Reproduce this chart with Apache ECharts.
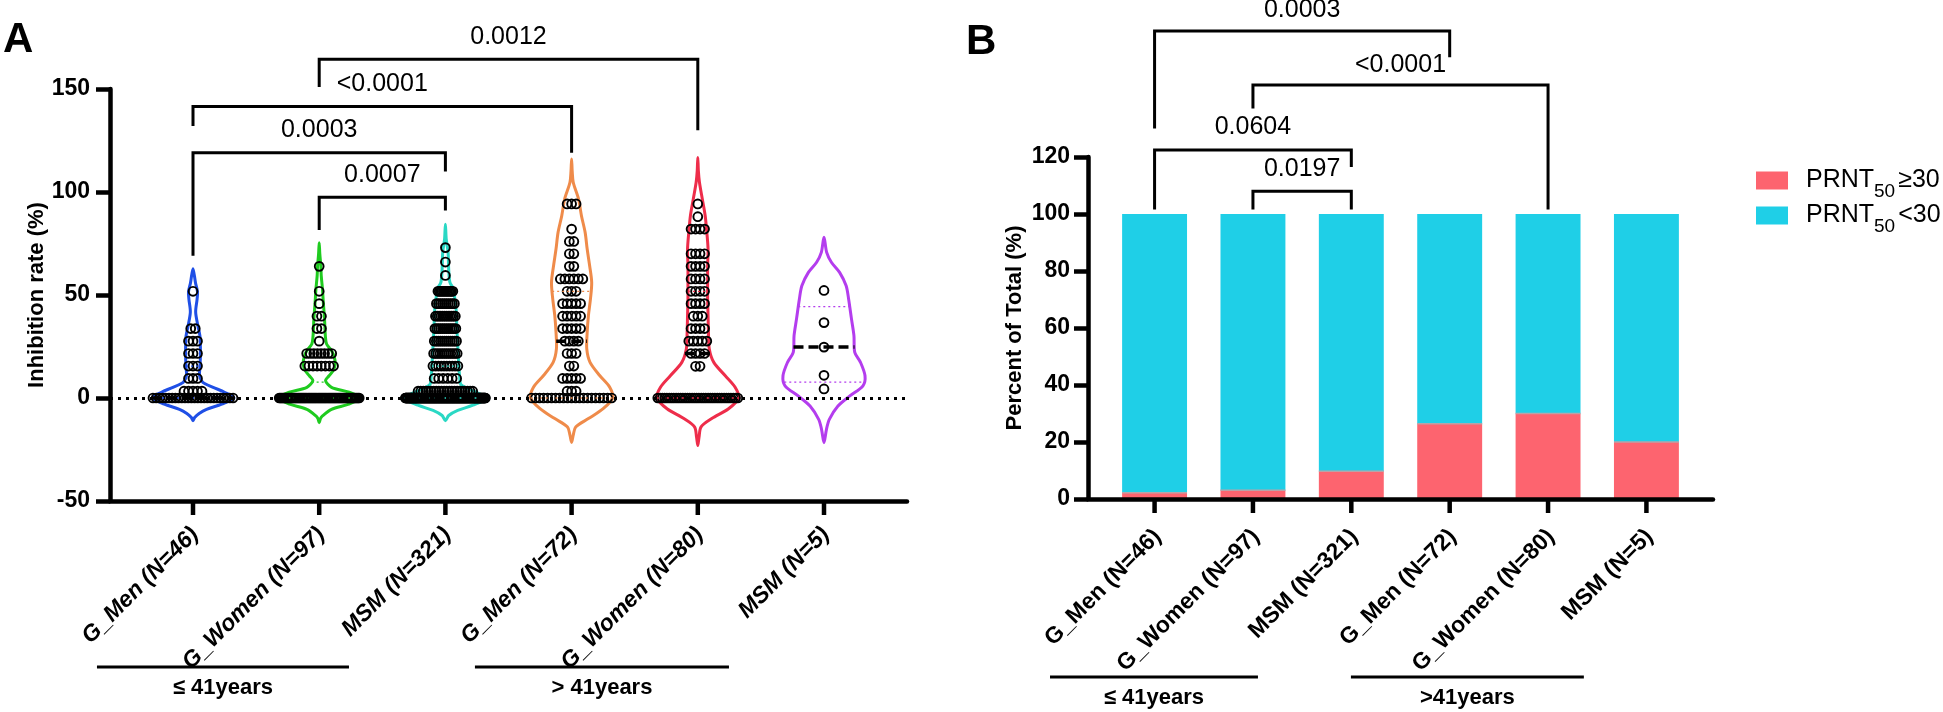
<!DOCTYPE html>
<html><head><meta charset="utf-8">
<script src="https://cdn.jsdelivr.net/npm/echarts@6/dist/echarts.min.js"></script>
<style>html,body{margin:0;padding:0;background:#fff}#c{width:1943px;height:712px}</style>
</head><body><div id="c"></div>
<script>
// ================= DATA =================
const categories = ['G_Men (N=46)','G_Women (N=97)','MSM (N=321)','G_Men (N=72)','G_Women (N=80)','MSM (N=5)'];

// Panel A: inhibition rate (%) points, rows as [value, count]
const pointsG1 = [[0,26],[3.3,5],[9.5,3],[15.5,3],[21.6,3],[27.6,3],[33.7,2],[51.8,1]];
const pointsG2 = [[0,73],[15.5,8],[21.6,8],[27.6,1],[33.7,2],[39.7,2],[45.8,1],[51.8,1],[63.9,1]];
const pointsG3 = [[0,210],[3.3,22],[9.5,6],[15.5,10],[21.6,12],[27.6,12],[33.7,12],[39.7,12],[45.8,10],[51.8,12],[59.5,1],[66,1],[73,1]];
const pointsG4 = [[0,21],[3.3,3],[9.5,5],[15.5,2],[21.6,3],[27.6,4],[33.7,5],[39.7,5],[45.8,5],[51.8,3],[57.8,6],[63.9,2],[70,2],[76,2],[82,1],[94.2,3]];
const pointsG5 = [[0,36],[15.4,2],[21.6,4],[27.6,5],[33.7,4],[39.7,3],[45.8,4],[51.8,4],[57.8,4],[63.9,4],[70,4],[82,4],[88,1],[94.2,1]];
const pointsG6 = [[4.4,1],[11,1],[24.7,1],[36.6,1],[52.2,1]];

// Panel A: violin outlines, [value, relative half-width]
const outlineG1 = [[-11,0],[-9.5,0.04],[-7.5,0.15],[-5.5,0.33],[-3,0.7],[0,1],[2.8,0.77],[5.2,0.49],[7.6,0.24],[10.8,0.16],[15,0.17],[20,0.18],[25,0.18],[30,0.17],[35,0.12],[41.7,0.065],[48,0.1],[51.5,0.11],[56,0.06],[62.8,0]];
const outlineG2 = [[-12,0],[-10,0.03],[-8.7,0.08],[-5.5,0.3],[-3,0.72],[0,1],[2.8,0.73],[5.2,0.3],[8.4,0.155],[10.8,0.24],[13.3,0.34],[16.5,0.39],[19.7,0.37],[23,0.3],[26.2,0.18],[30.2,0.15],[38.3,0.13],[46.4,0.1],[52.8,0.08],[59.3,0.05],[64,0.04],[70,0.015],[75.4,0]];
const outlineG3 = [[-11,0],[-8.5,0.08],[-6,0.3],[-3.5,0.67],[0,1],[3.2,0.7],[6.5,0.38],[9.7,0.35],[15,0.33],[22.2,0.31],[33.5,0.28],[43.2,0.26],[49.7,0.22],[52.9,0.2],[56.1,0.11],[62.6,0.08],[70.7,0.065],[77.2,0.02],[84.4,0]];
const outlineG4 = [[-21.6,0],[-18,0.04],[-14.1,0.1],[-10,0.41],[-5.2,0.77],[0,1],[5.2,0.93],[10.8,0.69],[17.3,0.45],[23.8,0.37],[31.9,0.38],[40,0.41],[48.1,0.46],[56.1,0.49],[64.2,0.44],[72.3,0.38],[80.4,0.33],[88.5,0.24],[96.6,0.17],[104.7,0.04],[110,0.015],[116,0]];
const outlineG5 = [[-23.1,0],[-19,0.03],[-14,0.08],[-10,0.34],[-5.2,0.75],[0,1],[5.2,0.91],[10.8,0.67],[17.3,0.39],[23.8,0.28],[31.9,0.26],[40,0.25],[48.1,0.24],[56.1,0.24],[64.2,0.24],[72.3,0.25],[80.4,0.22],[88.5,0.18],[96.6,0.11],[104.7,0.04],[110,0.015],[116.8,0]];
const outlineG6 = [[-21.7,0],[-15.2,0.06],[-10.4,0.13],[-3.9,0.34],[1,0.63],[5.9,0.95],[10.8,1],[17.3,0.89],[22.2,0.75],[30.3,0.73],[38.4,0.67],[48.1,0.6],[54.5,0.54],[61,0.38],[65.9,0.18],[70.7,0.065],[78,0]];

// Panel A axis: min, max, interval
const yAxisA = [-50, 150, 50];
// Panel B axis
const yAxisB = [0, 120, 20];

// Panel B: percent of total
const pctAbove30 = [2.2, 3.1, 9.7, 26.4, 30.0, 20.0];
const pctBelow30 = [97.8, 96.9, 90.3, 73.6, 70.0, 80.0];
const legendNames = ['PRNT50 ≥30', 'PRNT50<30'];

// comparisons: [groupFrom, groupTo, barValue, legFromEnd, legToEnd, label, labelValue]
const bracketsA = [
  [2,5,164.5,151,130,'0.0012',175.2],
  [1,4,141.5,132,119,'<0.0001',152.4],
  [1,3,119,69,110,'0.0003',129.9],
  [2,3,97.5,81.5,91,'0.0007',108.3]
];
const bracketsB = [
  [1,4,164.2,130,155,'0.0003',171.5],
  [2,5,145.3,137,101.6,'<0.0001',152.3],
  [1,3,122.5,101.6,116.5,'0.0604',130.5],
  [2,3,108,101.6,101.6,'0.0197',115.8]
];
// age group spans: [label, from, to] in category units
const ageGroupsA = [['≤ 41years',0.239,2.236],['> 41years',3.234,5.247]];
const ageGroupsB = [['≤ 41years',-0.063,2.051],['>41years',2.996,5.364]];

// ================= STYLE =================
const FONT = '"Liberation Sans", Arial, Helvetica, sans-serif';
const violinColors = ['#1F4FE6','#1FCB1F','#2AD8C4','#EF8B4A','#EE2D4A','#B43DEE'];
const colAbove = '#FD646F', colBelow = '#1FCFE7';
const groupPoints = [pointsG1,pointsG2,pointsG3,pointsG4,pointsG5,pointsG6];
const groupOutlines = [outlineG1,outlineG2,outlineG3,outlineG4,outlineG5,outlineG6];
const HALF = 0.325;   // violin max half width (category units)

function hwAt(ol, v){
  if (v <= ol[0][0]) return ol[0][1];
  for (let i=1;i<ol.length;i++){
    if (v <= ol[i][0]){ const a=ol[i-1], b=ol[i]; return a[1] + (b[1]-a[1])*(v-a[0])/(b[0]-a[0]); }
  }
  return ol[ol.length-1][1];
}
function pct(sorted, p){
  const n = sorted.length, r = p*(n+1);
  if (r <= 1) return sorted[0];
  if (r >= n) return sorted[n-1];
  const lo = Math.floor(r); return sorted[lo-1] + (r-lo)*(sorted[lo]-sorted[lo-1]);
}
const groupStats = groupPoints.map(rows=>{
  const vals=[]; rows.forEach(([v,k])=>{for(let j=0;j<k;j++) vals.push(v);});
  vals.sort((a,b)=>a-b);
  return [pct(vals,0.25), pct(vals,0.5), pct(vals,0.75)];
});
const pointData = [];
groupPoints.forEach((rows,g)=>rows.forEach(([v,k])=>{for(let j=0;j<k;j++) pointData.push([g+1, v, j, k]);}));

const chart = echarts.init(document.getElementById('c'), null, {renderer:'canvas'});

const axA_min = 0.3423, axA_max = 6.6577, axB_min = 0.3232, axB_max = 6.6768;

function catTicks(yBase, labelFont, dx, dy){
  return function(params, api){
    const i = api.value(0);
    const p = api.coord([i, yBase]);
    return {type:'group', children:[
      {type:'line', shape:{x1:p[0],y1:p[1],x2:p[0],y2:p[1]+14}, style:{stroke:'#000', lineWidth:4.5}},
      {type:'text', x:p[0]+dx, y:p[1]+dy, rotation:Math.PI/4,
        style:{text:categories[i-1], font:labelFont, fill:'#000', align:'right', verticalAlign:'middle'}}
    ]};
  };
}
function bracketRender(list){
  return function(params, api){
    const b = list[params.dataIndex];
    const p1=api.coord([b[0],b[3]]), p2=api.coord([b[0],b[2]]), p3=api.coord([b[1],b[2]]), p4=api.coord([b[1],b[4]]);
    const t = api.coord([(b[0]+b[1])/2, b[6]]);
    return {type:'group', children:[
      {type:'polyline', shape:{points:[p1,p2,p3,p4]}, style:{stroke:'#000', lineWidth:3, fill:null}},
      {type:'text', x:t[0], y:t[1], style:{text:b[5], font:'25px '+FONT, fill:'#000', align:'center', verticalAlign:'middle'}}
    ]};
  };
}
function ageRender(list, yBase, lineDy, textDy){
  return function(params, api){
    const a = list[params.dataIndex];
    const p1 = api.coord([a[1], yBase]), p2 = api.coord([a[2], yBase]);
    return {type:'group', children:[
      {type:'line', shape:{x1:p1[0],y1:p1[1]+lineDy,x2:p2[0],y2:p2[1]+lineDy}, style:{stroke:'#000', lineWidth:3}},
      {type:'text', x:(p1[0]+p2[0])/2, y:p1[1]+textDy, style:{text:a[0], font:'bold 22px '+FONT, fill:'#000', align:'center', verticalAlign:'middle'}}
    ]};
  };
}

const axisLineStyle = {color:'#000', width:4.5};

const option = {
  animation:false,
  backgroundColor:'#fff',
  textStyle:{fontFamily:FONT},
  title:[
    {text:'A', left:3, top:19, padding:0, textStyle:{fontSize:42, fontWeight:'bold', color:'#000', fontFamily:FONT}},
    {text:'B', left:966, top:21, padding:0, textStyle:{fontSize:42, fontWeight:'bold', color:'#000', fontFamily:FONT}}
  ],
  legend:{
    orient:'vertical', left:1756, top:168, padding:0, itemWidth:32, itemHeight:18, itemGap:2, icon:'rect',
    data:[{name:legendNames[0], itemStyle:{color:colAbove}},{name:legendNames[1], itemStyle:{color:colBelow}}],
    formatter: n => n===legendNames[0] ? '{p|PRNT}{s|50}{a|≥30}' : '{p|PRNT}{s|50}{a|<30}',
    textStyle:{color:'#000', rich:{
      p:{fontSize:25, color:'#000', padding:[0,0,0,13], fontFamily:FONT},
      s:{fontSize:19, color:'#000', padding:[22,3,0,0], fontFamily:FONT},
      a:{fontSize:25, color:'#000', fontFamily:FONT}
    }}
  },
  grid:[
    {left:110, top:89, width:797, height:412},
    {left:1088, top:157, width:625, height:342}
  ],
  xAxis:[
    {type:'value', gridIndex:0, min:axA_min, max:axA_max, axisLine:{show:true, onZero:false, lineStyle:axisLineStyle},
      axisTick:{show:false}, axisLabel:{show:false}, splitLine:{show:false}, z:10},
    {type:'value', gridIndex:1, min:axB_min, max:axB_max, axisLine:{show:true, onZero:false, lineStyle:axisLineStyle},
      axisTick:{show:false}, axisLabel:{show:false}, splitLine:{show:false}, z:10}
  ],
  yAxis:[
    {type:'value', gridIndex:0, min:yAxisA[0], max:yAxisA[1], interval:yAxisA[2],
      axisLine:{show:true, onZero:false, lineStyle:axisLineStyle},
      axisTick:{show:true, length:14, lineStyle:{color:'#000', width:4.5}},
      axisLabel:{color:'#000', fontSize:23, fontWeight:'bold', margin:20, fontFamily:FONT},
      splitLine:{show:false},
      name:'Inhibition rate (%)', nameLocation:'middle', nameGap:62, nameRotate:90,
      nameTextStyle:{fontSize:22, fontWeight:'bold', color:'#000', fontFamily:FONT}, z:10},
    {type:'value', gridIndex:1, min:yAxisB[0], max:yAxisB[1], interval:yAxisB[2],
      axisLine:{show:true, onZero:false, lineStyle:axisLineStyle},
      axisTick:{show:true, length:14, lineStyle:{color:'#000', width:4.5}},
      axisLabel:{color:'#000', fontSize:23, fontWeight:'bold', margin:18, fontFamily:FONT},
      splitLine:{show:false},
      name:'Percent of Total (%)', nameLocation:'middle', nameGap:62, nameRotate:90,
      nameTextStyle:{fontSize:22, fontWeight:'bold', color:'#000', fontFamily:FONT}, z:10}
  ],
  series:[
    // violins
    {type:'custom', name:'violins', xAxisIndex:0, yAxisIndex:0, silent:true, z:2,
      data: groupOutlines.map((o,i)=>[i+1, 0]),
      renderItem:function(params, api){
        const g = api.value(0), ol = groupOutlines[g-1];
        const maxHW = api.size([HALF,0])[0];
        const right = ol.map(([v,f])=>{const c=api.coord([g,v]); return [c[0]+f*maxHW, c[1]];});
        const left = ol.slice(1,-1).reverse().map(([v,f])=>{const c=api.coord([g,v]); return [c[0]-f*maxHW, c[1]];});
        return {type:'polygon', shape:{points:right.concat(left), smooth:0.3},
          style:{fill:'rgba(0,0,0,0)', stroke:violinColors[g-1], lineWidth:3}};
      },
      markLine:{silent:true, symbol:['none','none'], label:{show:false},
        lineStyle:{type:[3,5], width:3.2, color:'#000'}, data:[{yAxis:0}]}
    },
    // points
    {type:'custom', name:'points', xAxisIndex:0, yAxisIndex:0, silent:true, z:3,
      data: pointData,
      renderItem:function(params, api){
        const g=api.value(0), v=api.value(1), j=api.value(2), k=api.value(3);
        const c = api.coord([g,v]);
        const maxHW = api.size([HALF,0])[0];
        const hw = hwAt(groupOutlines[g-1], v)*maxHW;
        const avail = Math.max(0, hw-1);
        const step = k>1 ? Math.min(4.5, 2*avail/(k-1)) : 0;
        const dx = (j-(k-1)/2)*step;
        return {type:'circle', shape:{cx:c[0]+dx, cy:c[1], r:4.4},
          style:{fill:'rgba(0,0,0,0)', stroke:'#000', lineWidth:1.9}};
      }
    },
    // medians & quartiles
    {type:'custom', name:'stats', xAxisIndex:0, yAxisIndex:0, silent:true, z:4,
      data: groupStats.map((s,i)=>[i+1, s[1]]),
      renderItem:function(params, api){
        const g = api.value(0), ol = groupOutlines[g-1], s = groupStats[g-1];
        const maxHW = api.size([HALF,0])[0];
        function hl(v, style){ const c=api.coord([g,v]); const w=hwAt(ol,v)*maxHW;
          return {type:'line', shape:{x1:c[0]-w,y1:c[1],x2:c[0]+w,y2:c[1]}, style:style}; }
        return {type:'group', children:[
          hl(s[0], {stroke:violinColors[g-1], lineWidth:1.3, lineDash:[2,3]}),
          hl(s[2], {stroke:violinColors[g-1], lineWidth:1.3, lineDash:[2,3]}),
          hl(s[1], {stroke:'#000', lineWidth:3.5, lineDash:[10,5]})
        ]};
      }
    },
    // category ticks & labels A
    {type:'custom', name:'catA', xAxisIndex:0, yAxisIndex:0, silent:true, z:5,
      data: categories.map((c,i)=>[i+1, yAxisA[0]]),
      renderItem: catTicks(yAxisA[0], 'italic bold 23px '+FONT, 2, 30)},
    {type:'custom', name:'bracketsA', xAxisIndex:0, yAxisIndex:0, silent:true, z:5,
      data: bracketsA.map(b=>[b[0], b[2]]), renderItem: bracketRender(bracketsA)},
    {type:'custom', name:'ageA', xAxisIndex:0, yAxisIndex:0, silent:true, z:5,
      data: ageGroupsA.map(a=>[a[1], yAxisA[0]]), renderItem: ageRender(ageGroupsA, yAxisA[0], 166, 187)},

    // Panel B bars
    {type:'custom', name:legendNames[0], xAxisIndex:1, yAxisIndex:1, silent:true, z:2,
      itemStyle:{color:colAbove},
      data: pctAbove30.map((v,i)=>[i+1, 0, v]), encode:{x:0, y:[1,2]},
      renderItem:function(params, api){
        const i=api.value(0), p0=api.coord([i, api.value(1)]), p1=api.coord([i, api.value(2)]);
        const w = api.size([0.66,0])[0];
        return {type:'rect', shape:{x:p0[0]-w/2, y:p1[1], width:w, height:p0[1]-p1[1]}, style:{fill:colAbove}};
      }},
    {type:'custom', name:legendNames[1], xAxisIndex:1, yAxisIndex:1, silent:true, z:2,
      itemStyle:{color:colBelow},
      data: pctBelow30.map((v,i)=>[i+1, pctAbove30[i], pctAbove30[i]+v]), encode:{x:0, y:[1,2]},
      renderItem:function(params, api){
        const i=api.value(0), p0=api.coord([i, api.value(1)]), p1=api.coord([i, api.value(2)]);
        const w = api.size([0.66,0])[0];
        return {type:'group', children:[
          {type:'rect', shape:{x:p0[0]-w/2, y:p1[1], width:w, height:p0[1]-p1[1]}, style:{fill:colBelow}},
          {type:'line', shape:{x1:p0[0]-w/2, y1:p0[1], x2:p0[0]+w/2, y2:p0[1]}, style:{stroke:'#B9A3A8', lineWidth:1.5}}
        ]};
      }},
    {type:'custom', name:'catB', xAxisIndex:1, yAxisIndex:1, silent:true, z:5,
      data: categories.map((c,i)=>[i+1, yAxisB[0]]),
      renderItem: catTicks(yAxisB[0], 'bold 23px '+FONT, 3, 34)},
    {type:'custom', name:'bracketsB', xAxisIndex:1, yAxisIndex:1, silent:true, z:5,
      data: bracketsB.map(b=>[b[0], b[2]]), renderItem: bracketRender(bracketsB)},
    {type:'custom', name:'ageB', xAxisIndex:1, yAxisIndex:1, silent:true, z:5,
      data: ageGroupsB.map(a=>[a[1], yAxisB[0]]), renderItem: ageRender(ageGroupsB, yAxisB[0], 178, 199)}
  ]
};
chart.setOption(option);
</script>
</body></html>
